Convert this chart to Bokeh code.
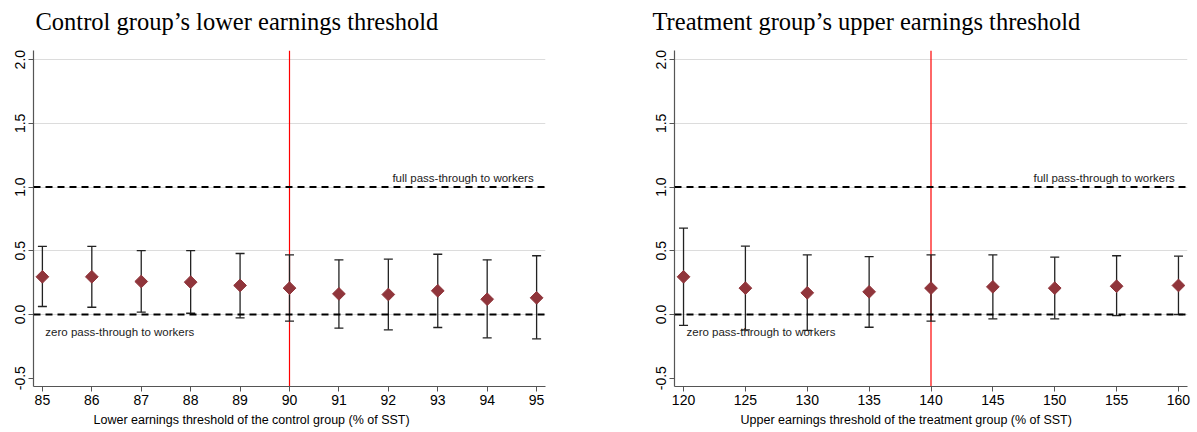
import math
from bokeh.plotting import figure
from bokeh.models import (Range1d, FixedTicker, Span, Whisker, TeeHead,
                          ColumnDataSource, NumeralTickFormatter, Title,
                          LinearAxis, CustomJSTickFormatter)
from bokeh.layouts import row
from bokeh.embed import file_html
from bokeh.resources import INLINE
from bokeh.core.properties import value

# ---------------- data ----------------
control_thresholds = [85, 86, 87, 88, 89, 90, 91, 92, 93, 94, 95]
control_est = [0.296, 0.296, 0.259, 0.254, 0.228, 0.207, 0.162, 0.157, 0.186, 0.120, 0.131]
control_hi = [0.534, 0.534, 0.502, 0.502, 0.479, 0.468, 0.429, 0.434, 0.473, 0.429, 0.461]
control_lo = [0.063, 0.057, 0.018, 0.010, -0.026, -0.052, -0.107, -0.120, -0.102, -0.183, -0.191]

treat_thresholds = [120, 125, 130, 135, 140, 145, 150, 155, 160]
treat_est = [0.296, 0.207, 0.170, 0.178, 0.207, 0.217, 0.207, 0.222, 0.228]
treat_hi = [0.678, 0.536, 0.468, 0.455, 0.468, 0.468, 0.450, 0.461, 0.458]
treat_lo = [-0.086, -0.120, -0.125, -0.100, -0.052, -0.034, -0.034, -0.008, 0.000]

y_ticks = [-0.5, 0.0, 0.5, 1.0, 1.5, 2.0]
y_limits = (-0.565, 2.072)
control_xticks = [85, 86, 87, 88, 89, 90, 91, 92, 93, 94, 95]
treat_xticks = [120, 125, 130, 135, 140, 145, 150, 155, 160]

control_title = "Control group\u2019s lower earnings threshold"
treat_title = "Treatment group\u2019s upper earnings threshold"
control_xlabel = "Lower earnings threshold of the control group (% of SST)"
treat_xlabel = "Upper earnings threshold of the treatment group (% of SST)"
full_text = "full pass-through to workers"
zero_text = "zero pass-through to workers"
full_level = 1.0
zero_level = 0.0
control_cutoff = 90
treat_cutoff = 140

MARKER = "#90353B"
SANS = "Liberation Sans"
SERIF = "Liberation Serif"
AXIS = "#555555"


def panel(title, xs, est, lo, hi, xticks, xr, xlabel, xlabel_offset, cutoff,
          cutoff_color, width, mbl, mbr, title_offset, full_x, zero_x):
    p = figure(width=width, height=432, output_backend="svg",
               toolbar_location=None, x_range=Range1d(*xr),
               y_range=Range1d(*y_limits),
               min_border_left=mbl, min_border_right=mbr,
               min_border_top=50, min_border_bottom=46)
    p.outline_line_color = None
    p.background_fill_color = "white"
    p.border_fill_color = "white"

    # axes
    for ax in (p.xaxis[0], p.yaxis[0]):
        ax.axis_line_color = AXIS
        ax.axis_line_width = 1.2
        ax.major_tick_line_color = AXIS
        ax.major_tick_out = 5
        ax.major_tick_in = 0
        ax.minor_tick_line_color = None
        ax.major_label_text_font = SANS
        ax.major_label_text_font_size = "14px"
        ax.major_label_text_color = "black"
        ax.major_label_standoff = 3
    p.xaxis.ticker = FixedTicker(ticks=xticks)
    p.yaxis.ticker = FixedTicker(ticks=y_ticks)
    p.yaxis.formatter = NumeralTickFormatter(format="0.0")
    p.yaxis.major_label_orientation = "parallel"

    p.xgrid.grid_line_color = None
    p.ygrid.ticker = FixedTicker(ticks=[t for t in y_ticks if t > -0.5])
    p.ygrid.grid_line_color = "#dcdcdc"
    p.ygrid.grid_line_width = 1

    # cut-off line, drawn as a 1-pixel-wide filled bar (no stroke)
    p.rect(x=[cutoff], y=[(y_limits[0] + y_limits[1]) / 2], width=1.2,
           height=[y_limits[1] - y_limits[0]], width_units="screen",
           fill_color=cutoff_color, line_color=None)

    src = ColumnDataSource(dict(x=xs, est=est, lo=lo, hi=hi))
    w = Whisker(source=src, base="x", upper="hi", lower="lo", dimension="height",
                line_color="#222222", line_width=1.3, level="annotation",
                upper_head=TeeHead(size=9, line_color="#222222", line_width=1.3),
                lower_head=TeeHead(size=9, line_color="#222222", line_width=1.3))
    p.add_layout(w)

    for lev in (full_level, zero_level):
        p.add_layout(Span(location=lev, dimension="width", line_color="black",
                          line_width=2, line_dash="7 5"))

    p.scatter("x", "est", source=src, marker="square", angle=math.pi / 4,
              size=9, fill_color=MARKER, line_color=MARKER, level="overlay")

    p.text(x=[full_x], y=[full_level], text=[full_text], text_align="right",
           text_baseline="alphabetic", y_offset=-9,
           text_font=value(SANS), text_font_size="11.5px", text_color="#222222")
    p.text(x=[zero_x], y=[zero_level], text=[zero_text], text_align="left",
           text_baseline="alphabetic", y_offset=17,
           text_font=value(SANS), text_font_size="11.5px", text_color="#222222")

    # spacer between frame and title (an empty, invisible axis)
    p.add_layout(LinearAxis(ticker=FixedTicker(ticks=[cutoff]),
                            formatter=CustomJSTickFormatter(code="return ''"),
                            axis_line_color=None,
                            major_tick_line_color=None, minor_tick_line_color=None,
                            major_tick_out=15, major_tick_in=0,
                            major_label_standoff=0,
                            major_label_text_font_size="1px"), "above")
    p.add_layout(Title(text=title, align="left", offset=title_offset,
                       text_font=SERIF, text_font_size="24.5px",
                       text_font_style="normal", text_color="black",
                       standoff=2), "above")

    # x-axis title, placed like the original (not centred on the frame)
    p.add_layout(Title(text=xlabel, align="left", offset=xlabel_offset,
                       text_font=SANS, text_font_size="12.5px",
                       text_font_style="normal", text_color="black",
                       standoff=7), "below")
    return p


p1 = panel(control_title, control_thresholds, control_est, control_lo, control_hi,
           control_xticks, (84.82, 95.18), control_xlabel, 60, control_cutoff,
           "#ff0000", width=585, mbl=33, mbr=40, title_offset=2,
           full_x=94.94, zero_x=85.06)
p2 = panel(treat_title, treat_thresholds, treat_est, treat_lo, treat_hi,
           treat_xticks, (119.27, 160.73), treat_xlabel, 66, treat_cutoff,
           "#fe0202", width=611, mbl=89, mbr=9, title_offset=-22,
           full_x=159.7, zero_x=120.24)

layout = row(p1, p2)
open("out.html", "w").write(file_html(layout, INLINE))
